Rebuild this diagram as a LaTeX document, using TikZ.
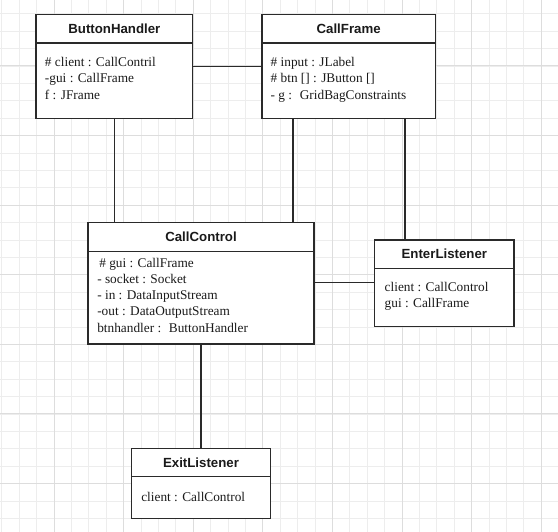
\documentclass[tikz,border=0pt]{standalone}
\usepackage{fontspec}
\setmainfont{Liberation Serif}
\newfontfamily\hdfont{Liberation Sans}
\definecolor{gridminor}{HTML}{EDEDED}
\definecolor{gridmajor}{HTML}{DDDDDD}
\definecolor{boxc}{HTML}{2A2A2A}
\definecolor{txtc}{HTML}{1A1A1A}
\begin{document}
\begin{tikzpicture}[x=1pt,y=-1pt,
  classbox/.style={draw=boxc, line width=1.3pt, fill=white, inner sep=0pt, outer sep=0pt},
  hdr/.style={classbox, font=\hdfont\bfseries\fontsize{13.25}{16}\selectfont, text=txtc},
  attr/.style={anchor=base west, inner sep=0pt, outer sep=0pt, text=txtc, font=\fontsize{13.3}{16.3}\selectfont},
  conn/.style={draw=boxc, line width=1.3pt}]
\useasboundingbox (0,0) rectangle (558,532);
\fill[white] (0,0) rectangle (558,532);
% grid
\foreach \k in {-3,...,29}{
  \pgfmathsetmacro\gx{54+17.4*\k}
  \draw[gridminor, line width=0.9pt] (\gx,0) -- (\gx,532);
}
\foreach \k in {-3,...,26}{
  \pgfmathsetmacro\gy{66+17.4*\k}
  \draw[gridminor, line width=0.9pt] (0,\gy) -- (558,\gy);
}
\foreach \k in {-1,...,7}{
  \pgfmathsetmacro\gx{54+69.6*\k}
  \draw[gridmajor, line width=1pt] (\gx,0) -- (\gx,532);
}
\foreach \k in {0,...,6}{
  \pgfmathsetmacro\gy{66+69.6*\k}
  \draw[gridmajor, line width=1pt] (0,\gy) -- (558,\gy);
}
% ButtonHandler
\node[hdr, minimum width=156.7pt, minimum height=28.3pt] (bhh) at (114.35,28.85) {ButtonHandler};
\node[classbox, minimum width=156.7pt, minimum height=75.3pt] (bhb) at (114.35,80.65) {};
% CallFrame
\node[hdr, minimum width=173.3pt, minimum height=28.3pt] (cfh) at (348.65,28.85) {CallFrame};
\node[classbox, minimum width=173.3pt, minimum height=75.3pt] (cfb) at (348.65,80.65) {};
% CallControl
\node[hdr, minimum width=226pt, minimum height=29pt] (cch) at (201,237.2) {CallControl};
\node[classbox, minimum width=226pt, minimum height=92.3pt] (ccb) at (201,297.85) {};
% EnterListener
\node[hdr, minimum width=139.3pt, minimum height=28.3pt] (enh) at (444.35,254.15) {EnterListener};
\node[classbox, minimum width=139.3pt, minimum height=58.4pt] (enb) at (444.35,297.5) {};
% ExitListener
\node[hdr, minimum width=139.4pt, minimum height=28.4pt] (exh) at (201,462.5) {ExitListener};
\node[classbox, minimum width=139.4pt, minimum height=42pt] (exb) at (201,497.7) {};
% connectors
\draw[conn] ([yshift=-23.3pt]bhb.north east) -- ([yshift=-23.3pt]cfb.north west);
\draw[conn] (bhb.south) -- (bhb.south |- cch.north);
\draw[conn] ([xshift=-55.7pt]cfb.south) -- ([xshift=-55.7pt]cfb.south |- cch.north);
\draw[conn] ([xshift=56.35pt]cfb.south) -- ([xshift=56.35pt]cfb.south |- enh.north);
\draw[conn] ([yshift=-30.8pt]ccb.north east) -- ([yshift=-30.8pt]ccb.north east -| enb.west);
\draw[conn] (ccb.south) -- (exh.north);
% attributes
\node[attr] (bh1) at (45,66.7) {\# client : CallContril};
\node[attr] (bh2) at (45,83.0) {-gui : CallFrame};
\node[attr] (bh3) at (45,99.3) {f : JFrame};
\node[attr] (cf1) at (270.7,66.7) {\# input : JLabel};
\node[attr] (cf2) at (270.7,83.0) {\# btn [] : JButton []};
\node[attr] (cf3) at (270.7,99.3) {- g :~ GridBagConstraints};
\node[attr] (cc1) at (99.3,267.3) {\# gui : CallFrame};
\node[attr] (cc2) at (97.3,283.5) {- socket : Socket};
\node[attr] (cc3) at (97.3,299.7) {- in : DataInputStream};
\node[attr] (cc4) at (97.3,315.9) {-out : DataOutputStream};
\node[attr] (cc5) at (97.3,332.1) {btnhandler :~ ButtonHandler};
\node[attr] (en1) at (384.7,291.7) {client : CallControl};
\node[attr] (en2) at (384.7,308.0) {gui : CallFrame};
\node[attr] (ex1) at (141.3,501) {client : CallControl};
\end{tikzpicture}
\end{document}
